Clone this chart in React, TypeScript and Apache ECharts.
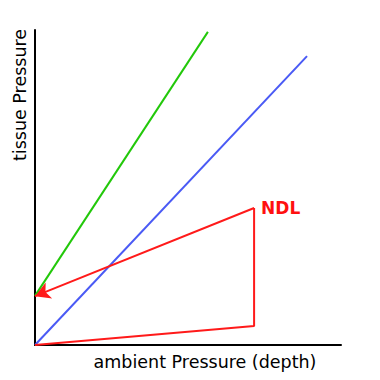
import React, { useEffect, useRef } from "react";
import * as echarts from "echarts";

const greenLine: [number, number][] = [[0, 15.6], [56.5, 99.4]];
const blueLine: [number, number][] = [[0, 0], [88.9, 91.7]];
const redPath: [number, number][] = [[0, 0], [71.6, 6.0], [71.6, 43.5]];
const redArrow: [number, number][] = [[71.6, 43.5], [0, 15.5]];
const ndlPoint: [number, number] = [71.6, 43.5];
const xName = "ambient Pressure (depth)";
const yName = "tissue Pressure";
const ndlLabel = "NDL";

export default function App() {
  const ref = useRef<HTMLDivElement>(null);
  useEffect(() => {
    const chart = echarts.init(ref.current!, null, { renderer: "svg" });
    const font = "DejaVu Sans, sans-serif";
    chart.setOption({
      animation: false,
      grid: { left: 35, top: 30, width: 306, height: 315 },
      xAxis: {
        type: "value", min: 0, max: 100,
        axisLine: { show: true, onZero: false, lineStyle: { color: "#000", width: 2 } },
        axisTick: { show: false }, axisLabel: { show: false }, splitLine: { show: false },
      },
      yAxis: {
        type: "value", min: 0, max: 100,
        axisLine: { show: true, onZero: false, lineStyle: { color: "#000", width: 2 } },
        axisTick: { show: false }, axisLabel: { show: false }, splitLine: { show: false },
      },
      series: [
        {
          type: "line", data: greenLine, symbol: "none",
          lineStyle: { color: "#22c80a", width: 2 },
        },
        {
          type: "line", data: blueLine, symbol: "none",
          lineStyle: { color: "#4a5af5", width: 2 },
        },
        {
          type: "line",
          data: redPath,
          symbol: "none",
          lineStyle: { color: "#ff1a1a", width: 2 },
          markLine: {
            silent: true,
            symbol: ["none", "arrow"],
            symbolSize: [13, 15],
            label: { show: false },
            lineStyle: { color: "#ff1a1a", width: 2, type: "solid" },
            data: [[{ coord: redArrow[0] }, { coord: redArrow[1] }]],
          },
        },
      ],
    });
    const p = chart.convertToPixel({ gridIndex: 0 }, ndlPoint) as number[];
    chart.setOption({
      graphic: [
        {
          id: "xname", type: "text", x: 205, y: 362,
          style: { text: xName, font: `17.5px ${font}`, fill: "#000", align: "center", verticalAlign: "middle" },
        },
        {
          id: "yname", type: "text", x: 19.5, y: 95, rotation: Math.PI / 2,
          style: { text: yName, font: `17.5px ${font}`, fill: "#000", align: "center", verticalAlign: "middle" },
        },
        {
          id: "ndl", type: "text", x: p[0] + 7, y: p[1],
          style: {
            text: ndlLabel, font: `bold 17px ${font}`, fill: "#ff1010",
            align: "left", verticalAlign: "middle",
          },
        },
      ],
    });
    return () => chart.dispose();
  }, []);
  return <div ref={ref} style={{ width: 380, height: 380, position: "absolute", left: 0, top: 0 }} />;
}
